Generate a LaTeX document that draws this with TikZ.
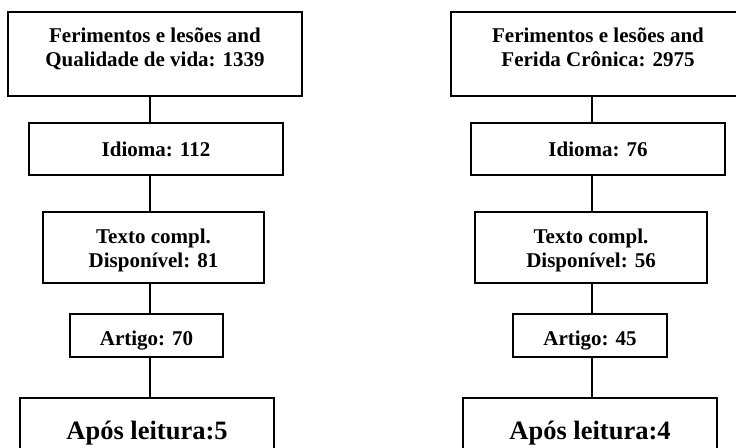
\documentclass[tikz,border=0pt]{standalone}
\usepackage{fontspec}
\setmainfont{Liberation Serif}
\usetikzlibrary{positioning}

\newcommand{\shiftby}[2]{\raisebox{#1}[\height][\depth]{#2}}

\begin{document}
\begin{tikzpicture}[
      x=1pt, y=-1pt,
      font=\fontsize{21}{24}\selectfont\bfseries,
      box/.style={draw, line width=1.1pt, align=center, inner sep=0pt},
      big/.style={box, font=\fontsize{26.5}{30}\selectfont\bfseries},
      link/.style={line width=1.1pt},
    ]
    \clip (0,0) rectangle (736,447);
    % ── coluna esquerda ──
    \coordinate (axL) at (150,0);
    \node[box, minimum width=294, minimum height=84] (l1) at (155,54)
      {\shiftby{4pt}{\begin{tabular}{@{}c@{}}Ferimentos e lesões and\\Qualidade de vida: 1339\end{tabular}}};
    \node[box, minimum width=254, minimum height=52] (l2) at (156,149) {Idioma: 112};
    \node[box, minimum width=221, minimum height=71] (l3) at (153.5,247.5)
      {\shiftby{-3pt}{\begin{tabular}{@{}c@{}}Texto compl.\\Disponível: 81\end{tabular}}};
    \node[box, minimum width=153, minimum height=43] (l4) at (146.5,335.5) {\shiftby{-5pt}{Artigo: 70}};
    \node[big, minimum width=254, minimum height=80] (l5) at (147,438) {\shiftby{5pt}{Após leitura:5}};
    % ── coluna direita ──
    \coordinate (axR) at (592,0);
    \node[box, minimum width=294, minimum height=84] (r1) at (598,54)
      {\shiftby{4pt}{\begin{tabular}{@{}c@{}}Ferimentos e lesões and\\Ferida Crônica: 2975\end{tabular}}};
    \node[box, minimum width=254, minimum height=52] (r2) at (598,149) {Idioma: 76};
    \node[box, minimum width=232, minimum height=71] (r3) at (591,247.5)
      {\shiftby{-3pt}{\begin{tabular}{@{}c@{}}Texto compl.\\Disponível: 56\end{tabular}}};
    \node[box, minimum width=154, minimum height=43] (r4) at (590,335.5) {\shiftby{-5pt}{Artigo: 45}};
    \node[big, minimum width=254, minimum height=80] (r5) at (590,438) {\shiftby{5pt}{Após leitura:4}};
    \foreach \c/\ax in {l/axL, r/axR}
      \foreach \a/\b in {1/2, 2/3, 3/4, 4/5}
        \draw[link] (\c\a.south -| \ax) -- (\c\b.north -| \ax);
  \end{tikzpicture}
\end{document}
